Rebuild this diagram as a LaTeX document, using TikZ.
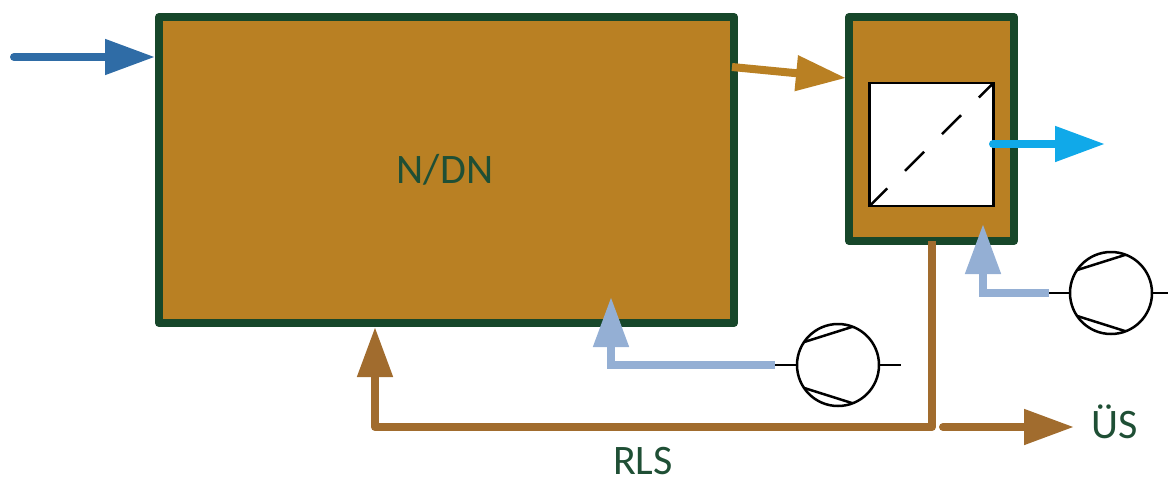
\documentclass[tikz,border=0pt]{standalone}
\usepackage{fontspec}
\setmainfont{Carlito}
\usetikzlibrary{arrows.meta,calc}
\definecolor{gold}{HTML}{B98023}
\definecolor{frame}{HTML}{17472A}
\definecolor{sludge}{HTML}{A16C2E}
\definecolor{air}{HTML}{94AFD4}
\definecolor{inflow}{HTML}{2F6CA6}
\definecolor{effluent}{HTML}{10A9E9}
\definecolor{txt}{HTML}{1F4F35}
\tikzset{
  tank/.style={draw=frame,fill=gold,line width=8pt,line join=round,inner sep=0pt,outer sep=0pt,anchor=center},
  membrane/.style={draw=black,fill=white,line width=2.6pt,inner sep=0pt,outer sep=0pt,minimum width=124pt,minimum height=123pt},
  pump/.style={circle,draw=black,fill=white,line width=2.5pt,inner sep=0pt,outer sep=0pt,minimum size=82pt},
  label/.style={text=txt,font=\fontsize{42}{46}\selectfont,inner sep=0pt},
  flow/.style={line width=8pt,-{Triangle[length=50pt,width=34pt]}},
  thin line/.style={draw=black,line width=2.5pt}
}
\begin{document}
\begin{tikzpicture}[x=1pt,y=-1pt]
\useasboundingbox (0,0) rectangle (1168,479);
% tanks
\node[tank,minimum width=575pt,minimum height=306pt] (ndn) at (446.5,170) {};
\node[tank,minimum width=165pt,minimum height=224pt] (mbr) at (931.5,129) {};
\node[membrane] (mem) at (931.5,144.5) {};
\draw[black,line width=2.5pt,dash pattern=on 27pt off 25pt,dash phase=2pt] (mem.south west) -- (mem.north east);
\node[label] (ndnlabel) at (445,170) {N/DN};
\node[label] (us) at (1115,422) {ÜS};
\node[label] (rls) at (643,461) {RLS};
% pumps
\node[pump] (p1) at (838,365) {};
\node[pump] (p2) at (1111,293) {};
\foreach \p in {p1,p2}{
  \draw[thin line] (\p.146) -- (\p.69);
  \draw[thin line] (\p.214) -- (\p.-69);
}
% free ends
\coordinate (in0) at (14,57);
\coordinate (in1) at (155,57);
\coordinate (g0) at (732,67);
\coordinate (g1) at (846,78);
\coordinate (c0) at (993,144);
\coordinate (c1) at (1105,144);
\coordinate (p1l) at (775,365);
\coordinate (p1r) at (901,365);
\coordinate (p2l) at (1049,293);
\coordinate (p2r) at (1168,293);
\coordinate (a1) at (611,365);
\coordinate (a1t) at (611,297);
\coordinate (a2) at (983,293);
\coordinate (a2t) at (983,224);
\coordinate (r0) at (932,241);
\coordinate (r1) at (932,427);
\coordinate (r2) at (375,427);
\coordinate (r3) at (375,327);
\coordinate (o0) at (943,427);
\coordinate (o1) at (1074,427);
% stubs
\draw[thin line] (p1l) -- (p1.west);
\draw[thin line] (p1.east) -- (p1r);
\draw[thin line] (p2l) -- (p2.west);
\draw[thin line] (p2.east) -- (p2r);
% flows
\draw[flow,inflow,line cap=round] (in0) -- (in1);
\draw[flow,gold] (g0) -- (g1);
\draw[flow,effluent,line cap=round] (c0) -- (c1);
\draw[flow,air] (p1l) -- (a1) -- (a1t);
\draw[flow,air] (p2l) -- (a2) -- (a2t);
\draw[flow,sludge,line join=round] (r0) -- (r1) -- (r2) -- (r3);
\draw[flow,sludge,line cap=round] (o0) -- (o1);
\end{tikzpicture}
\end{document}
